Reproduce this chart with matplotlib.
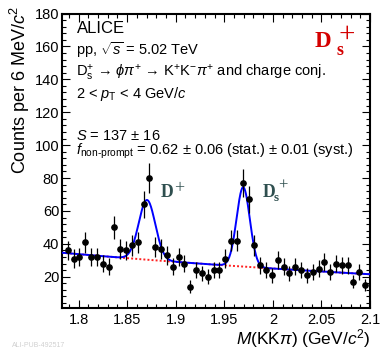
import numpy as np
import matplotlib
matplotlib.use("Agg")
import matplotlib.pyplot as plt
from matplotlib.ticker import MultipleLocator

plt.rcParams["font.family"] = ["Liberation Sans", "DejaVu Sans"]
plt.rcParams["mathtext.fontset"] = "custom"
plt.rcParams["mathtext.rm"] = "Liberation Sans"
plt.rcParams["mathtext.it"] = "Liberation Sans:italic"
plt.rcParams["mathtext.bf"] = "Liberation Sans:bold"

# Invariant-mass spectrum, 6 MeV/c^2 bins
bin_width = 0.006
first_center = 1.789
counts = [36, 31, 32, 41, 32, 32, 28, 26, 50, 37, 36, 39, 41, 64, 80, 38,
          37, 33, 26, 32, 28, 14, 24, 22, 20, 24, 24, 31, 42, 42, 77, 67,
          39, 27, 24, 21, 30, 26, 22, 26, 24, 21, 23, 25, 29, 23, 28, 27,
          27, 17, 23, 15]

# Fit: exponential background + two Gaussians (D+ and Ds+)
bkg_norm = 34.6          # background at M = 1.783
bkg_slope = -1.497       # 1/(GeV/c^2)
dplus_mean, dplus_sigma, dplus_amp = 1.8705, 0.0085, 36.3
ds_mean, ds_sigma, ds_yield = 1.9695, 0.0068, 137

mass = first_center + bin_width * np.arange(len(counts))
y = np.array(counts, dtype=float)
yerr = np.sqrt(y)

def background(m):
    return bkg_norm * np.exp(bkg_slope * (m - 1.783))

ds_amp = ds_yield * bin_width / (ds_sigma * np.sqrt(2 * np.pi))

def total(m):
    return (background(m)
            + dplus_amp * np.exp(-0.5 * ((m - dplus_mean) / dplus_sigma) ** 2)
            + ds_amp * np.exp(-0.5 * ((m - ds_mean) / ds_sigma) ** 2))

W, H = 382, 349
fig = plt.figure(figsize=(W / 100, H / 100), dpi=100)
ax = fig.add_axes([62 / W, 1 - 308 / H, 308 / W, 294.5 / H])

mm = np.linspace(1.783, 2.1, 800)
ax.plot(mm, background(mm), color="#ff2020", lw=1.4, ls=(0, (1, 1.1)), zorder=2)
ax.plot(mm, total(mm), color="#0000ff", lw=1.4, zorder=3)
ax.errorbar(mass, y, yerr=yerr, fmt="o", color="black", ms=3.8, lw=0.9,
            capsize=0, zorder=4)

ax.set_xlim(1.783, 2.1)
ax.set_ylim(1, 180)
ax.xaxis.set_minor_locator(MultipleLocator(0.01))
ax.yaxis.set_minor_locator(MultipleLocator(4))
ax.set_yticks([20, 40, 60, 80, 100, 120, 140, 160, 180])
ax.set_xticks([1.8, 1.85, 1.9, 1.95, 2.0, 2.05, 2.1])
ax.set_xticklabels(["1.8", "1.85", "1.9", "1.95", "2", "2.05", "2.1"])
ax.tick_params(which="both", direction="in", top=True, right=True,
               width=0.8, labelsize=10.5)
ax.tick_params(which="major", length=6)
ax.tick_params(which="minor", length=3.2)
ax.tick_params(axis="x", pad=3.8)
ax.tick_params(axis="y", pad=2)
for s in ax.spines.values():
    s.set_linewidth(1.5)

def px(x, yy):
    return x / W, 1 - yy / H

fig.text(*px(20, 6), r"Counts per 6 MeV/$c^{2}$", rotation=90, ha="center",
         va="top", fontsize=13)
fig.text(*px(370, 344.5), r"$M$(KK$\pi$) (GeV/$c^{2}$)", ha="right",
         va="baseline", fontsize=12.5)

x0 = 76.5
fig.text(*px(x0, 33), "ALICE", fontsize=12, va="baseline")
fig.text(*px(x0, 55), r"pp, $\sqrt{s}$ = 5.02 TeV", fontsize=10.5, va="baseline")
fig.text(*px(x0, 77),
         r"D$_{\rm s}^{+}$ → $\phi\pi^{+}$ → K$^{+}$K$^{-}\pi^{+}$ and charge conj.",
         fontsize=10.5, va="baseline")
fig.text(*px(x0, 98), r"2 < $p_{\rm T}$ < 4 GeV/$c$", fontsize=10.5, va="baseline")
fig.text(*px(x0, 140), r"$S$ = 137 ± 16", fontsize=10.5, va="baseline")
fig.text(*px(x0, 155),
         r"$f_{\text{non-prompt}}$ = 0.62 ± 0.06 (stat.) ± 0.01 (syst.)",
         fontsize=10.5, va="baseline")

# Particle labels in serif type
serif = "Liberation Serif"
red = "#d40000"
fig.text(*px(315, 47), "D", fontsize=16.5, fontweight="bold", family=serif,
         color=red, va="baseline")
fig.text(*px(336.5, 55), "s", fontsize=13, fontweight="bold", family=serif,
         color=red, va="baseline")
fig.text(*px(338, 42), "+", fontsize=21, family=serif, color=red,
         va="baseline")

gray = "#2f4f4f"
fig.text(*px(160.5, 196.7), "D", fontsize=12.7, fontweight="bold", family=serif,
         color=gray, va="baseline")
fig.text(*px(174.5, 193), "+", fontsize=13, family=serif, color=gray,
         va="baseline")
fig.text(*px(262.5, 196.7), "D", fontsize=12.7, fontweight="bold", family=serif,
         color=gray, va="baseline")
fig.text(*px(273.5, 201), "s", fontsize=9.5, fontweight="bold", family=serif,
         color=gray, va="baseline")
fig.text(*px(278, 190), "+", fontsize=12, family=serif, color=gray,
         va="baseline")

fig.text(*px(12, 347), "ALI-PUB-492517", fontsize=5, color="#d0d0d0",
         va="baseline")

fig.savefig("out.png", dpi=100)
